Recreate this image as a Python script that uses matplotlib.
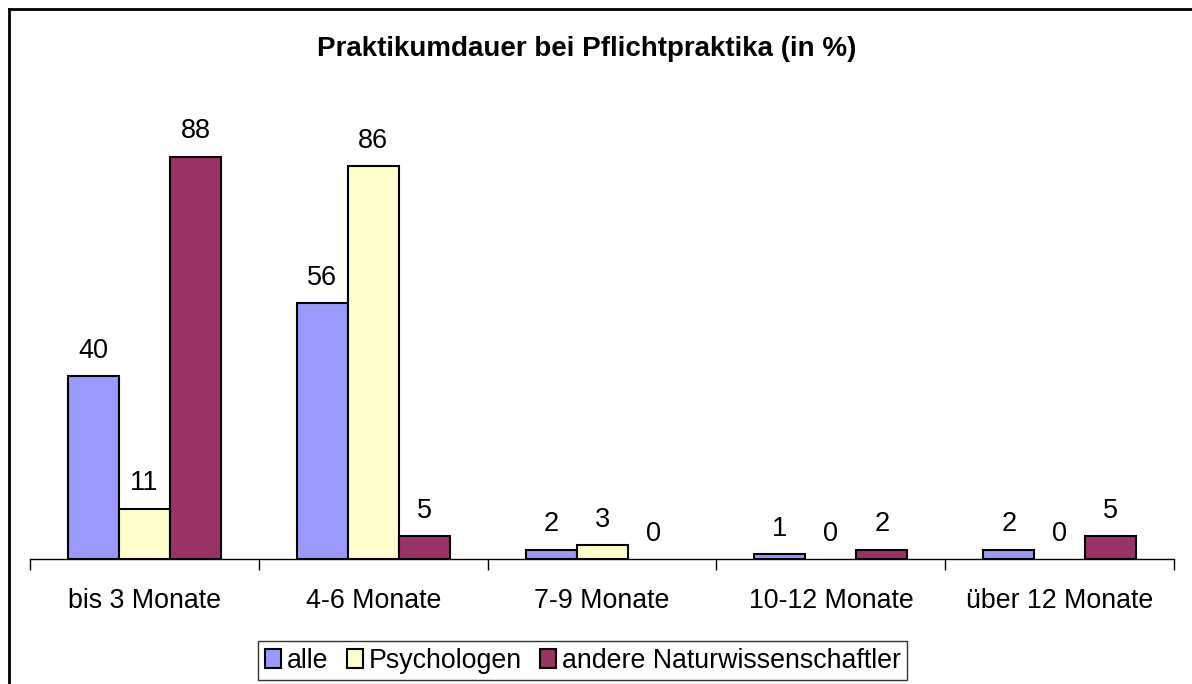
import matplotlib
matplotlib.use("Agg")
import matplotlib.pyplot as plt
from matplotlib.lines import Line2D
import numpy as np

# data
categories = ["bis 3 Monate", "4-6 Monate", "7-9 Monate", "10-12 Monate", "über 12 Monate"]
alle = [40, 56, 2, 1, 2]
psychologen = [11, 86, 3, 0, 0]
andere = [88, 5, 0, 2, 5]
series_names = ["alle", "Psychologen", "andere Naturwissenschaftler"]
colors = ["#9999FF", "#FFFFCC", "#993366"]

plt.rcParams['font.family'] = ['Liberation Sans', 'DejaVu Sans']

fig = plt.figure(figsize=(11.92, 6.84), dpi=100)
ax = fig.add_axes([0.0252, 0.1827, 0.9598, 0.668])

x = np.arange(len(categories))
w = 0.2227
for i, (vals, name, col) in enumerate(zip([alle, psychologen, andere], series_names, colors)):
    pos = x + (i - 1) * w
    # Excel draws no outline for zero-height bars
    lws = [0 if v == 0 else 1.5 for v in vals]
    ax.bar(pos, vals, width=w, color=col, edgecolor="black", linewidth=lws, label=name)
    for p, v in zip(pos, vals):
        ax.annotate(str(v), (p, v), xytext=(0, 9), textcoords="offset points",
                    ha="center", va="bottom", fontsize=19.5)

ax.set_xlim(-0.5, len(categories) - 0.5)
ax.set_ylim(0, 100)
for s in ["left", "right", "top"]:
    ax.spines[s].set_visible(False)
ax.spines["bottom"].set_linewidth(1.0)
ax.set_yticks([])

ax.set_xticks(x)
ax.set_xticklabels(categories, fontsize=19.3)
ax.tick_params(axis="x", which="major", length=0, pad=21)
ax.set_xticks(np.arange(len(categories) + 1) - 0.5, minor=True)
ax.tick_params(axis="x", which="minor", length=8, width=1.0, direction="out")

fig.suptitle("Praktikumdauer bei Pflichtpraktika (in %)", fontsize=20, fontweight="bold",
             x=0.4925, y=0.928, va="center")

leg = fig.legend(loc="center", bbox_to_anchor=(0.489, 0.034), ncol=3, fontsize=19.3,
                 frameon=True, fancybox=False, shadow=False, handlelength=0.6,
                 handleheight=0.7, handletextpad=0.2, columnspacing=0.7,
                 borderpad=0.25, borderaxespad=0)
leg.get_frame().set_edgecolor("black")
leg.get_frame().set_linewidth(1.0)
for h in leg.legend_handles:
    h.set_linewidth(1.5)

# chart border (left and top edges visible)
fig.add_artist(Line2D([0.0075, 0.0075], [0, 0.987], color="black", linewidth=2, transform=fig.transFigure))
fig.add_artist(Line2D([0.0075, 1.0], [0.987, 0.987], color="black", linewidth=2, transform=fig.transFigure))

fig.savefig("out.png", dpi=100)
